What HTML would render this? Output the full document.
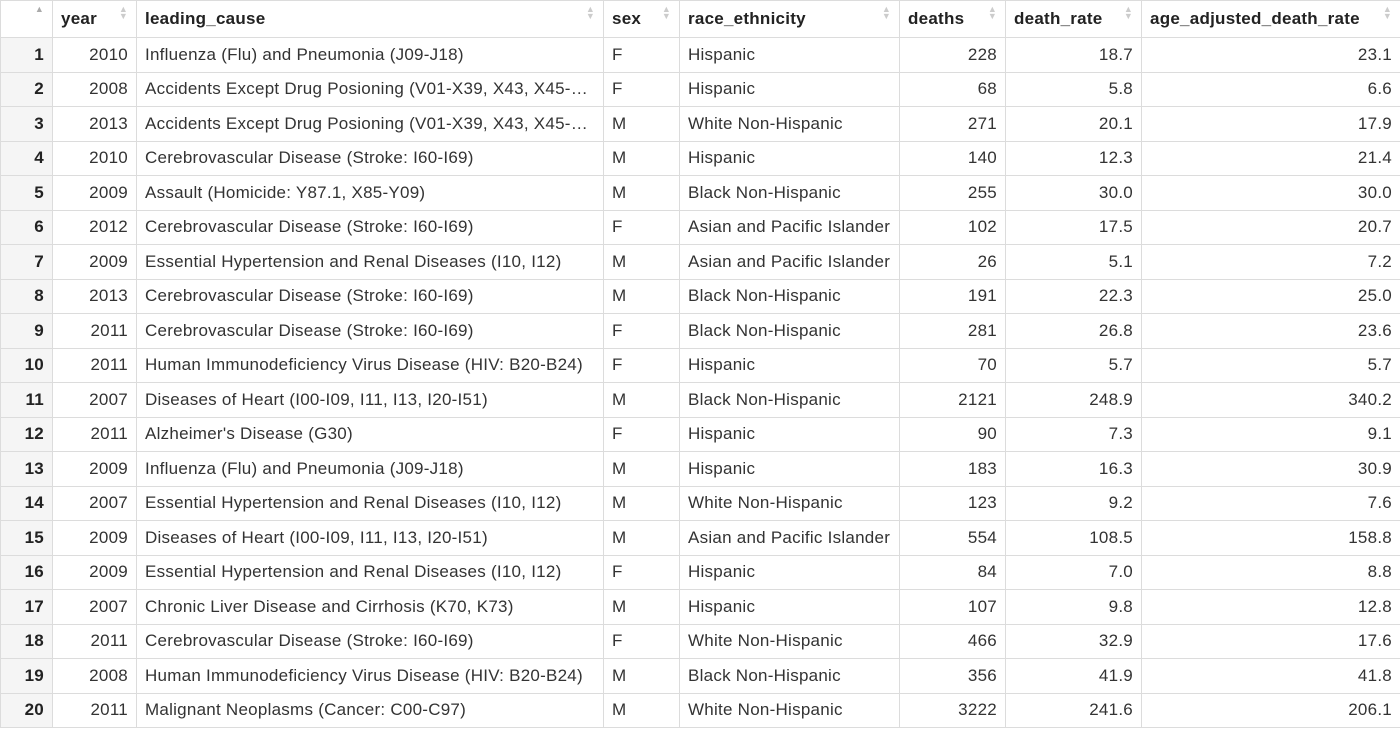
<!DOCTYPE html>
<html><head><meta charset="utf-8"><style>
html,body{margin:0;padding:0;background:#fff;width:1400px;height:729px;overflow:hidden}
table{border-collapse:collapse;table-layout:fixed;width:1400px;font-family:"Liberation Sans",sans-serif;font-size:17px;letter-spacing:0.25px;color:#333;position:absolute;left:0;top:0}
td,th{border:1px solid #dcdcdc;padding:0 8px;white-space:nowrap;overflow:hidden;text-overflow:ellipsis}
th{height:36px;text-align:left;font-weight:bold;position:relative;color:#222}
td{height:33.5px}
.i{background:#f5f5f5;text-align:right;font-weight:bold;color:#222}
.r{text-align:right}
.s{position:absolute;right:8px;top:5px;font-size:9px;color:#ccc;line-height:7px}
</style></head><body>
<table>
<colgroup><col style="width:52px"><col style="width:84px"><col style="width:467px"><col style="width:76px"><col style="width:220px"><col style="width:106px"><col style="width:136px"><col style="width:259px"></colgroup>
<thead><tr>
<th><span class="s" style="color:#aaa">▲</span></th>
<th>year<span class="s">▲<br>▼</span></th>
<th>leading_cause<span class="s">▲<br>▼</span></th>
<th>sex<span class="s">▲<br>▼</span></th>
<th>race_ethnicity<span class="s">▲<br>▼</span></th>
<th>deaths<span class="s">▲<br>▼</span></th>
<th>death_rate<span class="s">▲<br>▼</span></th>
<th>age_adjusted_death_rate<span class="s">▲<br>▼</span></th>
</tr></thead>
<tbody id="tb"></tbody></table>
<script>
const rows=[
[2010,"Influenza (Flu) and Pneumonia (J09-J18)","F","Hispanic",228,"18.7","23.1"],
[2008,"Accidents Except Drug Posioning (V01-X39, X43, X45-X59, Y85-Y86)","F","Hispanic",68,"5.8","6.6"],
[2013,"Accidents Except Drug Posioning (V01-X39, X43, X45-X59, Y85-Y86)","M","White Non-Hispanic",271,"20.1","17.9"],
[2010,"Cerebrovascular Disease (Stroke: I60-I69)","M","Hispanic",140,"12.3","21.4"],
[2009,"Assault (Homicide: Y87.1, X85-Y09)","M","Black Non-Hispanic",255,"30.0","30.0"],
[2012,"Cerebrovascular Disease (Stroke: I60-I69)","F","Asian and Pacific Islander",102,"17.5","20.7"],
[2009,"Essential Hypertension and Renal Diseases (I10, I12)","M","Asian and Pacific Islander",26,"5.1","7.2"],
[2013,"Cerebrovascular Disease (Stroke: I60-I69)","M","Black Non-Hispanic",191,"22.3","25.0"],
[2011,"Cerebrovascular Disease (Stroke: I60-I69)","F","Black Non-Hispanic",281,"26.8","23.6"],
[2011,"Human Immunodeficiency Virus Disease (HIV: B20-B24)","F","Hispanic",70,"5.7","5.7"],
[2007,"Diseases of Heart (I00-I09, I11, I13, I20-I51)","M","Black Non-Hispanic",2121,"248.9","340.2"],
[2011,"Alzheimer's Disease (G30)","F","Hispanic",90,"7.3","9.1"],
[2009,"Influenza (Flu) and Pneumonia (J09-J18)","M","Hispanic",183,"16.3","30.9"],
[2007,"Essential Hypertension and Renal Diseases (I10, I12)","M","White Non-Hispanic",123,"9.2","7.6"],
[2009,"Diseases of Heart (I00-I09, I11, I13, I20-I51)","M","Asian and Pacific Islander",554,"108.5","158.8"],
[2009,"Essential Hypertension and Renal Diseases (I10, I12)","F","Hispanic",84,"7.0","8.8"],
[2007,"Chronic Liver Disease and Cirrhosis (K70, K73)","M","Hispanic",107,"9.8","12.8"],
[2011,"Cerebrovascular Disease (Stroke: I60-I69)","F","White Non-Hispanic",466,"32.9","17.6"],
[2008,"Human Immunodeficiency Virus Disease (HIV: B20-B24)","M","Black Non-Hispanic",356,"41.9","41.8"],
[2011,"Malignant Neoplasms (Cancer: C00-C97)","M","White Non-Hispanic",3222,"241.6","206.1"]
];
const names=["year","leading-cause","sex","race-ethnicity","deaths","death-rate","age-adjusted-death-rate"];
const right=[true,false,false,false,true,true,true];
const tb=document.getElementById('tb');
rows.forEach((r,i)=>{
  const tr=document.createElement('tr');
  
  
  const td0=document.createElement('td');
  td0.className='i';td0.textContent=i+1;
  
  
  tr.appendChild(td0);
  r.forEach((v,j)=>{
    const td=document.createElement('td');
    if(right[j])td.className='r';
    td.textContent=v;
    
    
    tr.appendChild(td);
  });
  tb.appendChild(tr);
});
</script>
</body></html>
